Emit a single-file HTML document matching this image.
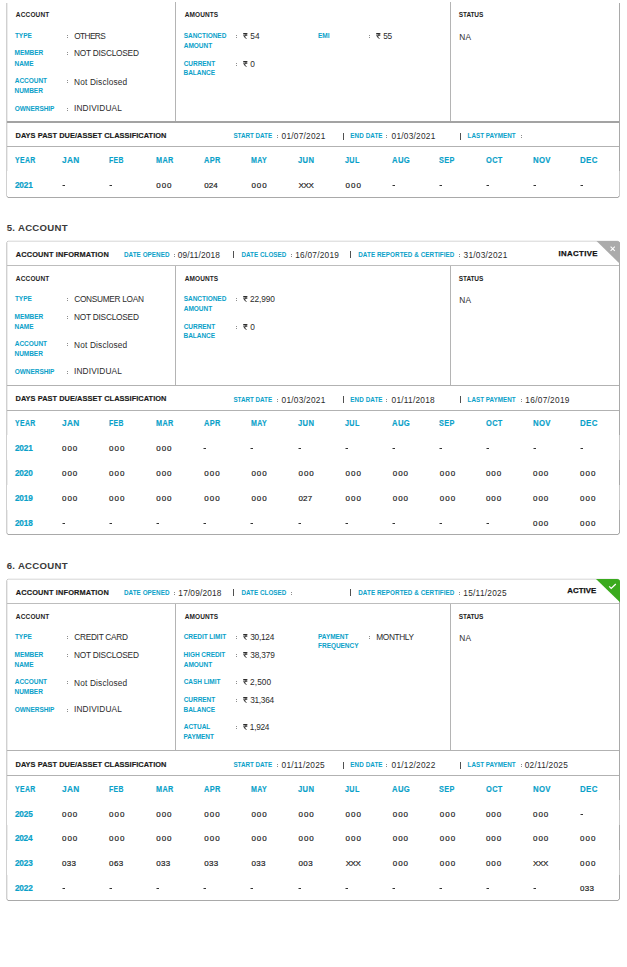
<!DOCTYPE html>
<html><head><meta charset="utf-8"><style>
html,body{margin:0;padding:0;background:#fff;}
body{width:627px;height:967px;position:relative;overflow:hidden;font-family:"Liberation Sans",sans-serif;}
.t{position:absolute;white-space:nowrap;line-height:1;}
.r{position:absolute;display:block;}
</style></head><body>
<div class="r" style="left:6px;top:3px;width:1px;height:193px;background:#d0d0d0"></div>
<div class="r" style="left:7px;top:3px;width:1px;height:193px;background:#ececec"></div>
<div class="r" style="left:619px;top:3px;width:1px;height:193px;background:#a9a9a9"></div>
<div class="r" style="left:8px;top:197px;width:610px;height:1px;background:#a9a9a9"></div>
<div class="r" style="left:7px;top:196px;width:1px;height:1px;background:#c2c2c2"></div>
<div class="r" style="left:6px;top:196px;width:1px;height:1px;background:#e6e6e6"></div>
<div class="r" style="left:7px;top:197px;width:1px;height:1px;background:#dcdcdc"></div>
<div class="r" style="left:618px;top:196px;width:1px;height:1px;background:#b4b4b4"></div>
<div class="r" style="left:618px;top:197px;width:1px;height:1px;background:#d8d8d8"></div>
<div class="r" style="left:619px;top:196px;width:1px;height:1px;background:#d8d8d8"></div>
<div class="t" style="left:15.84px;top:12px;font-size:6.5px;font-weight:bold;color:#1e1e1e;letter-spacing:0.16px;">ACCOUNT</div>
<div class="t" style="left:184.84px;top:12px;font-size:6.5px;font-weight:bold;color:#1e1e1e;letter-spacing:0.06px;">AMOUNTS</div>
<div class="t" style="left:458.81px;top:12px;font-size:6.5px;font-weight:bold;color:#1e1e1e;letter-spacing:-0.11px;">STATUS</div>
<div class="t" style="left:459.32px;top:33px;font-size:8.3px;font-weight:normal;color:#2b2b2b;letter-spacing:0.17px;">NA</div>
<div class="t" style="left:14.93px;top:33px;font-size:6.5px;font-weight:bold;color:#0aa1c9;letter-spacing:-0.05px;">TYPE</div>
<div class="r" style="left:67px;top:35px;width:1px;height:1px;background:#8e8e8e"></div>
<div class="r" style="left:67px;top:37px;width:1px;height:1px;background:#8e8e8e"></div>
<div class="t" style="left:74.31px;top:32px;font-size:8.3px;font-weight:normal;color:#2b2b2b;letter-spacing:-0.64px;">OTHERS</div>
<div class="t" style="left:14.57px;top:50px;font-size:6.5px;font-weight:bold;color:#0aa1c9;letter-spacing:-0.05px;">MEMBER</div>
<div class="t" style="left:14.57px;top:61px;font-size:6.5px;font-weight:bold;color:#0aa1c9;letter-spacing:-0.05px;">NAME</div>
<div class="r" style="left:67px;top:52px;width:1px;height:1px;background:#8e8e8e"></div>
<div class="r" style="left:67px;top:54px;width:1px;height:1px;background:#8e8e8e"></div>
<div class="t" style="left:74.02px;top:49px;font-size:8.3px;font-weight:normal;color:#2b2b2b;letter-spacing:-0.23px;">NOT DISCLOSED</div>
<div class="t" style="left:14.84px;top:78px;font-size:6.5px;font-weight:bold;color:#0aa1c9;letter-spacing:-0.05px;">ACCOUNT</div>
<div class="t" style="left:14.57px;top:88px;font-size:6.5px;font-weight:bold;color:#0aa1c9;letter-spacing:-0.05px;">NUMBER</div>
<div class="r" style="left:67px;top:80px;width:1px;height:1px;background:#8e8e8e"></div>
<div class="r" style="left:67px;top:82px;width:1px;height:1px;background:#8e8e8e"></div>
<div class="t" style="left:74.02px;top:78px;font-size:8.3px;font-weight:normal;color:#2b2b2b;letter-spacing:0.17px;">Not Disclosed</div>
<div class="t" style="left:14.73px;top:106px;font-size:6.5px;font-weight:bold;color:#0aa1c9;letter-spacing:-0.05px;">OWNERSHIP</div>
<div class="r" style="left:67px;top:108px;width:1px;height:1px;background:#8e8e8e"></div>
<div class="r" style="left:67px;top:110px;width:1px;height:1px;background:#8e8e8e"></div>
<div class="t" style="left:73.93px;top:104px;font-size:8.3px;font-weight:normal;color:#2b2b2b;letter-spacing:0.16px;">INDIVIDUAL</div>
<div class="t" style="left:183.81px;top:33px;font-size:6.5px;font-weight:bold;color:#0aa1c9;letter-spacing:-0.05px;">SANCTIONED</div>
<div class="t" style="left:183.84px;top:43px;font-size:6.5px;font-weight:bold;color:#0aa1c9;letter-spacing:-0.05px;">AMOUNT</div>
<div class="r" style="left:236px;top:35px;width:1px;height:1px;background:#8e8e8e"></div>
<div class="r" style="left:236px;top:37px;width:1px;height:1px;background:#8e8e8e"></div>
<svg class="r" style="left:242.8px;top:33px" width="5" height="6" viewBox="0 0 5 6"><path d="M0.2 0.55H4.4M0.2 2.1H4.4M1.2 0.55C3.8 0.55 3.9 3.4 0.9 3.4L3.6 5.8" fill="none" stroke="#2b2b2b" stroke-width="1"/></svg>
<div class="t" style="left:250.17px;top:32px;font-size:8.3px;font-weight:normal;color:#2b2b2b;letter-spacing:0.24px;">54</div>
<div class="t" style="left:183.73px;top:61px;font-size:6.5px;font-weight:bold;color:#0aa1c9;letter-spacing:-0.05px;">CURRENT</div>
<div class="t" style="left:183.57px;top:70px;font-size:6.5px;font-weight:bold;color:#0aa1c9;letter-spacing:-0.05px;">BALANCE</div>
<div class="r" style="left:236px;top:63px;width:1px;height:1px;background:#8e8e8e"></div>
<div class="r" style="left:236px;top:65px;width:1px;height:1px;background:#8e8e8e"></div>
<svg class="r" style="left:242.8px;top:61px" width="5" height="6" viewBox="0 0 5 6"><path d="M0.2 0.55H4.4M0.2 2.1H4.4M1.2 0.55C3.8 0.55 3.9 3.4 0.9 3.4L3.6 5.8" fill="none" stroke="#2b2b2b" stroke-width="1"/></svg>
<div class="t" style="left:250.18px;top:60px;font-size:8.3px;font-weight:normal;color:#2b2b2b;letter-spacing:-0.10px;">0</div>
<div class="t" style="left:318.07px;top:33px;font-size:6.5px;font-weight:bold;color:#0aa1c9;letter-spacing:-0.05px;">EMI</div>
<div class="r" style="left:369px;top:35px;width:1px;height:1px;background:#8e8e8e"></div>
<div class="r" style="left:369px;top:37px;width:1px;height:1px;background:#8e8e8e"></div>
<svg class="r" style="left:376px;top:33px" width="5" height="6" viewBox="0 0 5 6"><path d="M0.2 0.55H4.4M0.2 2.1H4.4M1.2 0.55C3.8 0.55 3.9 3.4 0.9 3.4L3.6 5.8" fill="none" stroke="#2b2b2b" stroke-width="1"/></svg>
<div class="t" style="left:383.37px;top:32px;font-size:8.3px;font-weight:normal;color:#2b2b2b;letter-spacing:-0.55px;">55</div>
<div class="r" style="left:175px;top:2px;width:1px;height:119px;background:#b4b4b4"></div>
<div class="r" style="left:450px;top:2px;width:1px;height:119px;background:#b4b4b4"></div>
<div class="r" style="left:7px;top:121px;width:612px;height:2px;background:#a3a3a3"></div>
<div class="t" style="left:15.50px;top:132px;font-size:7.4px;font-weight:bold;color:#1a1a1a;letter-spacing:0.06px;-webkit-text-stroke:0.15px #1a1a1a">DAYS PAST DUE/ASSET CLASSIFICATION</div>
<div class="t" style="left:233.42px;top:133px;font-size:6.3px;font-weight:bold;color:#0aa1c9;letter-spacing:-0.03px;">START DATE</div>
<div class="r" style="left:277px;top:135px;width:1px;height:1px;background:#8e8e8e"></div>
<div class="r" style="left:277px;top:137px;width:1px;height:1px;background:#8e8e8e"></div>
<div class="t" style="left:281.58px;top:132px;font-size:8.3px;font-weight:normal;color:#2b2b2b;letter-spacing:0.24px;">01/07/2021</div>
<div class="r" style="left:343px;top:133px;width:1px;height:7px;background:#505050"></div>
<div class="t" style="left:350.28px;top:133px;font-size:6.3px;font-weight:bold;color:#0aa1c9;letter-spacing:0.08px;">END DATE</div>
<div class="r" style="left:386px;top:135px;width:1px;height:1px;background:#8e8e8e"></div>
<div class="r" style="left:386px;top:137px;width:1px;height:1px;background:#8e8e8e"></div>
<div class="t" style="left:391.58px;top:132px;font-size:8.3px;font-weight:normal;color:#2b2b2b;letter-spacing:0.24px;">01/03/2021</div>
<div class="r" style="left:460px;top:133px;width:1px;height:7px;background:#505050"></div>
<div class="t" style="left:467.58px;top:133px;font-size:6.3px;font-weight:bold;color:#0aa1c9;letter-spacing:0.01px;">LAST PAYMENT</div>
<div class="r" style="left:521px;top:135px;width:1px;height:1px;background:#8e8e8e"></div>
<div class="r" style="left:521px;top:137px;width:1px;height:1px;background:#8e8e8e"></div>
<div class="r" style="left:7px;top:146px;width:612px;height:1px;background:#b2b2b2"></div>
<div class="r" style="left:619px;top:171px;width:1px;height:25px;background:#c9c9c9"></div>
<div class="r" style="left:7px;top:171px;width:1px;height:25px;background:#ffffff"></div>
<div class="t" style="left:15.06px;top:156px;font-size:8.3px;font-weight:bold;color:#0aa1c9;letter-spacing:0.42px;-webkit-text-stroke:0.15px #0aa1c9;transform:scaleX(0.833);transform-origin:0 0">YEAR</div>
<div class="t" style="left:62.17px;top:156px;font-size:8.3px;font-weight:bold;color:#0aa1c9;letter-spacing:0.35px;-webkit-text-stroke:0.15px #0aa1c9;transform:scaleX(0.999);transform-origin:0 0">JAN</div>
<div class="t" style="left:108.84px;top:156px;font-size:8.3px;font-weight:bold;color:#0aa1c9;letter-spacing:0.43px;-webkit-text-stroke:0.15px #0aa1c9;transform:scaleX(0.823);transform-origin:0 0">FEB</div>
<div class="t" style="left:155.94px;top:156px;font-size:8.3px;font-weight:bold;color:#0aa1c9;letter-spacing:0.40px;-webkit-text-stroke:0.15px #0aa1c9;transform:scaleX(0.875);transform-origin:0 0">MAR</div>
<div class="t" style="left:204.39px;top:156px;font-size:8.3px;font-weight:bold;color:#0aa1c9;letter-spacing:0.39px;-webkit-text-stroke:0.15px #0aa1c9;transform:scaleX(0.892);transform-origin:0 0">APR</div>
<div class="t" style="left:251.14px;top:156px;font-size:8.3px;font-weight:bold;color:#0aa1c9;letter-spacing:0.41px;-webkit-text-stroke:0.15px #0aa1c9;transform:scaleX(0.850);transform-origin:0 0">MAY</div>
<div class="t" style="left:297.67px;top:156px;font-size:8.3px;font-weight:bold;color:#0aa1c9;letter-spacing:0.38px;-webkit-text-stroke:0.15px #0aa1c9;transform:scaleX(0.917);transform-origin:0 0">JUN</div>
<div class="t" style="left:344.77px;top:156px;font-size:8.3px;font-weight:bold;color:#0aa1c9;letter-spacing:0.40px;-webkit-text-stroke:0.15px #0aa1c9;transform:scaleX(0.869);transform-origin:0 0">JUL</div>
<div class="t" style="left:391.79px;top:156px;font-size:8.3px;font-weight:bold;color:#0aa1c9;letter-spacing:0.38px;-webkit-text-stroke:0.15px #0aa1c9;transform:scaleX(0.925);transform-origin:0 0">AUG</div>
<div class="t" style="left:438.86px;top:156px;font-size:8.3px;font-weight:bold;color:#0aa1c9;letter-spacing:0.40px;-webkit-text-stroke:0.15px #0aa1c9;transform:scaleX(0.883);transform-origin:0 0">SEP</div>
<div class="t" style="left:485.86px;top:156px;font-size:8.3px;font-weight:bold;color:#0aa1c9;letter-spacing:0.39px;-webkit-text-stroke:0.15px #0aa1c9;transform:scaleX(0.895);transform-origin:0 0">OCT</div>
<div class="t" style="left:532.74px;top:156px;font-size:8.3px;font-weight:bold;color:#0aa1c9;letter-spacing:0.37px;-webkit-text-stroke:0.15px #0aa1c9;transform:scaleX(0.938);transform-origin:0 0">NOV</div>
<div class="t" style="left:579.84px;top:156px;font-size:8.3px;font-weight:bold;color:#0aa1c9;letter-spacing:0.37px;-webkit-text-stroke:0.15px #0aa1c9;transform:scaleX(0.950);transform-origin:0 0">DEC</div>
<div class="t" style="left:14.92px;top:182px;font-size:8.2px;font-weight:bold;color:#0aa1c9;letter-spacing:-0.14px;-webkit-text-stroke:0.2px #0aa1c9">2021</div>
<div class="r" style="left:62px;top:185px;width:1px;height:1px;background:#9a9a9a"></div>
<div class="r" style="left:63px;top:185px;width:2px;height:1px;background:#333333"></div>
<div class="r" style="left:109px;top:185px;width:1px;height:1px;background:#9a9a9a"></div>
<div class="r" style="left:110px;top:185px;width:2px;height:1px;background:#333333"></div>
<div class="t" style="left:156.19px;top:182px;font-size:8.0px;font-weight:normal;color:#1c1c1c;letter-spacing:0.99px;-webkit-text-stroke:0.2px #1c1c1c">000</div>
<div class="t" style="left:204.29px;top:182px;font-size:8.0px;font-weight:normal;color:#1c1c1c;letter-spacing:0.05px;-webkit-text-stroke:0.2px #1c1c1c">024</div>
<div class="t" style="left:251.39px;top:182px;font-size:8.0px;font-weight:normal;color:#1c1c1c;letter-spacing:0.99px;-webkit-text-stroke:0.2px #1c1c1c">000</div>
<div class="t" style="left:298.62px;top:182px;font-size:8.0px;font-weight:normal;color:#1c1c1c;letter-spacing:-0.43px;-webkit-text-stroke:0.2px #1c1c1c">XXX</div>
<div class="t" style="left:345.59px;top:182px;font-size:8.0px;font-weight:normal;color:#1c1c1c;letter-spacing:0.99px;-webkit-text-stroke:0.2px #1c1c1c">000</div>
<div class="r" style="left:392px;top:185px;width:1px;height:1px;background:#9a9a9a"></div>
<div class="r" style="left:393px;top:185px;width:2px;height:1px;background:#333333"></div>
<div class="r" style="left:439px;top:185px;width:1px;height:1px;background:#9a9a9a"></div>
<div class="r" style="left:440px;top:185px;width:2px;height:1px;background:#333333"></div>
<div class="r" style="left:486px;top:185px;width:1px;height:1px;background:#9a9a9a"></div>
<div class="r" style="left:487px;top:185px;width:2px;height:1px;background:#333333"></div>
<div class="r" style="left:533px;top:185px;width:1px;height:1px;background:#9a9a9a"></div>
<div class="r" style="left:534px;top:185px;width:2px;height:1px;background:#333333"></div>
<div class="r" style="left:580px;top:185px;width:1px;height:1px;background:#9a9a9a"></div>
<div class="r" style="left:581px;top:185px;width:2px;height:1px;background:#333333"></div>
<div class="t" style="left:6.70px;top:223px;font-size:9.6px;font-weight:bold;color:#3a3a3a;letter-spacing:0.30px;">5. ACCOUNT</div>
<div class="r" style="left:8px;top:240px;width:610px;height:1px;background:#f2f2f2"></div>
<div class="r" style="left:8px;top:241px;width:610px;height:1px;background:#e2e2e2"></div>
<div class="r" style="left:7px;top:241px;width:1px;height:1px;background:#cbcbcb"></div>
<div class="r" style="left:6px;top:242px;width:1px;height:1px;background:#dadada"></div>
<div class="r" style="left:7px;top:242px;width:1px;height:1px;background:#f2f2f2"></div>
<div class="r" style="left:618px;top:241px;width:1px;height:1px;background:#d4d4d4"></div>
<div class="r" style="left:619px;top:242px;width:1px;height:1px;background:#b8b8b8"></div>
<div class="r" style="left:6px;top:243px;width:1px;height:290px;background:#d0d0d0"></div>
<div class="r" style="left:7px;top:243px;width:1px;height:290px;background:#ececec"></div>
<div class="r" style="left:619px;top:243px;width:1px;height:290px;background:#a9a9a9"></div>
<div class="r" style="left:8px;top:534px;width:610px;height:1px;background:#a9a9a9"></div>
<div class="r" style="left:7px;top:533px;width:1px;height:1px;background:#c2c2c2"></div>
<div class="r" style="left:6px;top:533px;width:1px;height:1px;background:#e6e6e6"></div>
<div class="r" style="left:7px;top:534px;width:1px;height:1px;background:#dcdcdc"></div>
<div class="r" style="left:618px;top:533px;width:1px;height:1px;background:#b4b4b4"></div>
<div class="r" style="left:618px;top:534px;width:1px;height:1px;background:#d8d8d8"></div>
<div class="r" style="left:619px;top:533px;width:1px;height:1px;background:#d8d8d8"></div>
<div class="t" style="left:15.82px;top:251px;font-size:7.4px;font-weight:bold;color:#1a1a1a;letter-spacing:0.13px;-webkit-text-stroke:0.15px #1a1a1a">ACCOUNT INFORMATION</div>
<div class="t" style="left:123.98px;top:252px;font-size:6.3px;font-weight:bold;color:#0aa1c9;letter-spacing:0.05px;">DATE OPENED</div>
<div class="r" style="left:174px;top:254px;width:1px;height:1px;background:#8e8e8e"></div>
<div class="r" style="left:174px;top:256px;width:1px;height:1px;background:#8e8e8e"></div>
<div class="t" style="left:177.68px;top:251px;font-size:8.3px;font-weight:normal;color:#2b2b2b;letter-spacing:0.13px;">09/11/2018</div>
<div class="r" style="left:233px;top:251px;width:1px;height:7px;background:#505050"></div>
<div class="t" style="left:241.38px;top:252px;font-size:6.3px;font-weight:bold;color:#0aa1c9;letter-spacing:0.03px;">DATE CLOSED</div>
<div class="r" style="left:291px;top:254px;width:1px;height:1px;background:#8e8e8e"></div>
<div class="r" style="left:291px;top:256px;width:1px;height:1px;background:#8e8e8e"></div>
<div class="t" style="left:295.27px;top:251px;font-size:8.3px;font-weight:normal;color:#2b2b2b;letter-spacing:0.23px;">16/07/2019</div>
<div class="r" style="left:350px;top:251px;width:1px;height:7px;background:#505050"></div>
<div class="t" style="left:358.28px;top:252px;font-size:6.3px;font-weight:bold;color:#0aa1c9;letter-spacing:0.06px;">DATE REPORTED &amp; CERTIFIED</div>
<div class="r" style="left:459px;top:254px;width:1px;height:1px;background:#8e8e8e"></div>
<div class="r" style="left:459px;top:256px;width:1px;height:1px;background:#8e8e8e"></div>
<div class="t" style="left:463.58px;top:251px;font-size:8.3px;font-weight:normal;color:#2b2b2b;letter-spacing:0.24px;">31/03/2021</div>
<div class="r" style="left:7px;top:265px;width:612px;height:1px;background:#bdbdbd"></div>
<div class="t" style="left:558.58px;top:250px;font-size:7.8px;font-weight:bold;color:#111111;letter-spacing:0.35px;-webkit-text-stroke:0.25px #111">INACTIVE</div>
<svg class="r" style="left:0;top:0" width="627" height="967"><path d="M596.5 241H617 Q620 241 620 244V264 Z" fill="#ababab"/><path d="M610.6 246.6L614.8 250.8M614.8 246.6L610.6 250.8" stroke="#fff" stroke-width="1.1" fill="none"/></svg>
<div class="t" style="left:15.84px;top:276px;font-size:6.5px;font-weight:bold;color:#1e1e1e;letter-spacing:0.16px;">ACCOUNT</div>
<div class="t" style="left:184.84px;top:276px;font-size:6.5px;font-weight:bold;color:#1e1e1e;letter-spacing:0.06px;">AMOUNTS</div>
<div class="t" style="left:458.81px;top:276px;font-size:6.5px;font-weight:bold;color:#1e1e1e;letter-spacing:-0.11px;">STATUS</div>
<div class="t" style="left:459.32px;top:296px;font-size:8.3px;font-weight:normal;color:#2b2b2b;letter-spacing:0.17px;">NA</div>
<div class="t" style="left:14.93px;top:296px;font-size:6.5px;font-weight:bold;color:#0aa1c9;letter-spacing:-0.05px;">TYPE</div>
<div class="r" style="left:67px;top:298px;width:1px;height:1px;background:#8e8e8e"></div>
<div class="r" style="left:67px;top:300px;width:1px;height:1px;background:#8e8e8e"></div>
<div class="t" style="left:74.28px;top:295px;font-size:8.3px;font-weight:normal;color:#2b2b2b;letter-spacing:-0.30px;">CONSUMER LOAN</div>
<div class="t" style="left:14.57px;top:314px;font-size:6.5px;font-weight:bold;color:#0aa1c9;letter-spacing:-0.05px;">MEMBER</div>
<div class="t" style="left:14.57px;top:324px;font-size:6.5px;font-weight:bold;color:#0aa1c9;letter-spacing:-0.05px;">NAME</div>
<div class="r" style="left:67px;top:316px;width:1px;height:1px;background:#8e8e8e"></div>
<div class="r" style="left:67px;top:318px;width:1px;height:1px;background:#8e8e8e"></div>
<div class="t" style="left:74.02px;top:313px;font-size:8.3px;font-weight:normal;color:#2b2b2b;letter-spacing:-0.23px;">NOT DISCLOSED</div>
<div class="t" style="left:14.84px;top:341px;font-size:6.5px;font-weight:bold;color:#0aa1c9;letter-spacing:-0.05px;">ACCOUNT</div>
<div class="t" style="left:14.57px;top:351px;font-size:6.5px;font-weight:bold;color:#0aa1c9;letter-spacing:-0.05px;">NUMBER</div>
<div class="r" style="left:67px;top:343px;width:1px;height:1px;background:#8e8e8e"></div>
<div class="r" style="left:67px;top:345px;width:1px;height:1px;background:#8e8e8e"></div>
<div class="t" style="left:74.02px;top:341px;font-size:8.3px;font-weight:normal;color:#2b2b2b;letter-spacing:0.17px;">Not Disclosed</div>
<div class="t" style="left:14.73px;top:369px;font-size:6.5px;font-weight:bold;color:#0aa1c9;letter-spacing:-0.05px;">OWNERSHIP</div>
<div class="r" style="left:67px;top:371px;width:1px;height:1px;background:#8e8e8e"></div>
<div class="r" style="left:67px;top:373px;width:1px;height:1px;background:#8e8e8e"></div>
<div class="t" style="left:73.93px;top:367px;font-size:8.3px;font-weight:normal;color:#2b2b2b;letter-spacing:0.16px;">INDIVIDUAL</div>
<div class="t" style="left:183.81px;top:296px;font-size:6.5px;font-weight:bold;color:#0aa1c9;letter-spacing:-0.05px;">SANCTIONED</div>
<div class="t" style="left:183.84px;top:306px;font-size:6.5px;font-weight:bold;color:#0aa1c9;letter-spacing:-0.05px;">AMOUNT</div>
<div class="r" style="left:236px;top:298px;width:1px;height:1px;background:#8e8e8e"></div>
<div class="r" style="left:236px;top:300px;width:1px;height:1px;background:#8e8e8e"></div>
<svg class="r" style="left:242.8px;top:296px" width="5" height="6" viewBox="0 0 5 6"><path d="M0.2 0.55H4.4M0.2 2.1H4.4M1.2 0.55C3.8 0.55 3.9 3.4 0.9 3.4L3.6 5.8" fill="none" stroke="#2b2b2b" stroke-width="1"/></svg>
<div class="t" style="left:250.08px;top:295px;font-size:8.3px;font-weight:normal;color:#2b2b2b;letter-spacing:-0.13px;">22,990</div>
<div class="t" style="left:183.73px;top:324px;font-size:6.5px;font-weight:bold;color:#0aa1c9;letter-spacing:-0.05px;">CURRENT</div>
<div class="t" style="left:183.57px;top:333px;font-size:6.5px;font-weight:bold;color:#0aa1c9;letter-spacing:-0.05px;">BALANCE</div>
<div class="r" style="left:236px;top:326px;width:1px;height:1px;background:#8e8e8e"></div>
<div class="r" style="left:236px;top:328px;width:1px;height:1px;background:#8e8e8e"></div>
<svg class="r" style="left:242.8px;top:324px" width="5" height="6" viewBox="0 0 5 6"><path d="M0.2 0.55H4.4M0.2 2.1H4.4M1.2 0.55C3.8 0.55 3.9 3.4 0.9 3.4L3.6 5.8" fill="none" stroke="#2b2b2b" stroke-width="1"/></svg>
<div class="t" style="left:250.18px;top:323px;font-size:8.3px;font-weight:normal;color:#2b2b2b;letter-spacing:-0.10px;">0</div>
<div class="r" style="left:175px;top:266px;width:1px;height:119px;background:#b4b4b4"></div>
<div class="r" style="left:450px;top:266px;width:1px;height:119px;background:#b4b4b4"></div>
<div class="r" style="left:7px;top:385px;width:612px;height:1px;background:#b2b2b2"></div>
<div class="t" style="left:15.50px;top:395px;font-size:7.4px;font-weight:bold;color:#1a1a1a;letter-spacing:0.06px;-webkit-text-stroke:0.15px #1a1a1a">DAYS PAST DUE/ASSET CLASSIFICATION</div>
<div class="t" style="left:233.42px;top:397px;font-size:6.3px;font-weight:bold;color:#0aa1c9;letter-spacing:-0.03px;">START DATE</div>
<div class="r" style="left:277px;top:399px;width:1px;height:1px;background:#8e8e8e"></div>
<div class="r" style="left:277px;top:401px;width:1px;height:1px;background:#8e8e8e"></div>
<div class="t" style="left:281.58px;top:396px;font-size:8.3px;font-weight:normal;color:#2b2b2b;letter-spacing:0.24px;">01/03/2021</div>
<div class="r" style="left:343px;top:396px;width:1px;height:7px;background:#505050"></div>
<div class="t" style="left:350.28px;top:397px;font-size:6.3px;font-weight:bold;color:#0aa1c9;letter-spacing:0.08px;">END DATE</div>
<div class="r" style="left:386px;top:399px;width:1px;height:1px;background:#8e8e8e"></div>
<div class="r" style="left:386px;top:401px;width:1px;height:1px;background:#8e8e8e"></div>
<div class="t" style="left:391.58px;top:396px;font-size:8.3px;font-weight:normal;color:#2b2b2b;letter-spacing:0.24px;">01/11/2018</div>
<div class="r" style="left:460px;top:396px;width:1px;height:7px;background:#505050"></div>
<div class="t" style="left:467.58px;top:397px;font-size:6.3px;font-weight:bold;color:#0aa1c9;letter-spacing:0.01px;">LAST PAYMENT</div>
<div class="r" style="left:521px;top:399px;width:1px;height:1px;background:#8e8e8e"></div>
<div class="r" style="left:521px;top:401px;width:1px;height:1px;background:#8e8e8e"></div>
<div class="t" style="left:525.37px;top:396px;font-size:8.3px;font-weight:normal;color:#2b2b2b;letter-spacing:0.28px;">16/07/2019</div>
<div class="r" style="left:7px;top:410px;width:612px;height:1px;background:#b2b2b2"></div>
<div class="r" style="left:619px;top:435px;width:1px;height:25px;background:#c9c9c9"></div>
<div class="r" style="left:7px;top:435px;width:1px;height:25px;background:#ffffff"></div>
<div class="r" style="left:619px;top:485px;width:1px;height:25px;background:#c9c9c9"></div>
<div class="r" style="left:7px;top:485px;width:1px;height:25px;background:#ffffff"></div>
<div class="t" style="left:15.06px;top:419px;font-size:8.3px;font-weight:bold;color:#0aa1c9;letter-spacing:0.42px;-webkit-text-stroke:0.15px #0aa1c9;transform:scaleX(0.833);transform-origin:0 0">YEAR</div>
<div class="t" style="left:62.17px;top:419px;font-size:8.3px;font-weight:bold;color:#0aa1c9;letter-spacing:0.35px;-webkit-text-stroke:0.15px #0aa1c9;transform:scaleX(0.999);transform-origin:0 0">JAN</div>
<div class="t" style="left:108.84px;top:419px;font-size:8.3px;font-weight:bold;color:#0aa1c9;letter-spacing:0.43px;-webkit-text-stroke:0.15px #0aa1c9;transform:scaleX(0.823);transform-origin:0 0">FEB</div>
<div class="t" style="left:155.94px;top:419px;font-size:8.3px;font-weight:bold;color:#0aa1c9;letter-spacing:0.40px;-webkit-text-stroke:0.15px #0aa1c9;transform:scaleX(0.875);transform-origin:0 0">MAR</div>
<div class="t" style="left:204.39px;top:419px;font-size:8.3px;font-weight:bold;color:#0aa1c9;letter-spacing:0.39px;-webkit-text-stroke:0.15px #0aa1c9;transform:scaleX(0.892);transform-origin:0 0">APR</div>
<div class="t" style="left:251.14px;top:419px;font-size:8.3px;font-weight:bold;color:#0aa1c9;letter-spacing:0.41px;-webkit-text-stroke:0.15px #0aa1c9;transform:scaleX(0.850);transform-origin:0 0">MAY</div>
<div class="t" style="left:297.67px;top:419px;font-size:8.3px;font-weight:bold;color:#0aa1c9;letter-spacing:0.38px;-webkit-text-stroke:0.15px #0aa1c9;transform:scaleX(0.917);transform-origin:0 0">JUN</div>
<div class="t" style="left:344.77px;top:419px;font-size:8.3px;font-weight:bold;color:#0aa1c9;letter-spacing:0.40px;-webkit-text-stroke:0.15px #0aa1c9;transform:scaleX(0.869);transform-origin:0 0">JUL</div>
<div class="t" style="left:391.79px;top:419px;font-size:8.3px;font-weight:bold;color:#0aa1c9;letter-spacing:0.38px;-webkit-text-stroke:0.15px #0aa1c9;transform:scaleX(0.925);transform-origin:0 0">AUG</div>
<div class="t" style="left:438.86px;top:419px;font-size:8.3px;font-weight:bold;color:#0aa1c9;letter-spacing:0.40px;-webkit-text-stroke:0.15px #0aa1c9;transform:scaleX(0.883);transform-origin:0 0">SEP</div>
<div class="t" style="left:485.86px;top:419px;font-size:8.3px;font-weight:bold;color:#0aa1c9;letter-spacing:0.39px;-webkit-text-stroke:0.15px #0aa1c9;transform:scaleX(0.895);transform-origin:0 0">OCT</div>
<div class="t" style="left:532.74px;top:419px;font-size:8.3px;font-weight:bold;color:#0aa1c9;letter-spacing:0.37px;-webkit-text-stroke:0.15px #0aa1c9;transform:scaleX(0.938);transform-origin:0 0">NOV</div>
<div class="t" style="left:579.84px;top:419px;font-size:8.3px;font-weight:bold;color:#0aa1c9;letter-spacing:0.37px;-webkit-text-stroke:0.15px #0aa1c9;transform:scaleX(0.950);transform-origin:0 0">DEC</div>
<div class="t" style="left:14.92px;top:445px;font-size:8.2px;font-weight:bold;color:#0aa1c9;letter-spacing:-0.14px;-webkit-text-stroke:0.2px #0aa1c9">2021</div>
<div class="t" style="left:61.99px;top:445px;font-size:8.0px;font-weight:normal;color:#1c1c1c;letter-spacing:0.99px;-webkit-text-stroke:0.2px #1c1c1c">000</div>
<div class="t" style="left:109.09px;top:445px;font-size:8.0px;font-weight:normal;color:#1c1c1c;letter-spacing:0.99px;-webkit-text-stroke:0.2px #1c1c1c">000</div>
<div class="t" style="left:156.19px;top:445px;font-size:8.0px;font-weight:normal;color:#1c1c1c;letter-spacing:0.99px;-webkit-text-stroke:0.2px #1c1c1c">000</div>
<div class="r" style="left:203px;top:448px;width:1px;height:1px;background:#9a9a9a"></div>
<div class="r" style="left:204px;top:448px;width:2px;height:1px;background:#333333"></div>
<div class="r" style="left:250px;top:448px;width:1px;height:1px;background:#9a9a9a"></div>
<div class="r" style="left:251px;top:448px;width:2px;height:1px;background:#333333"></div>
<div class="r" style="left:298px;top:448px;width:1px;height:1px;background:#9a9a9a"></div>
<div class="r" style="left:299px;top:448px;width:2px;height:1px;background:#333333"></div>
<div class="r" style="left:345px;top:448px;width:1px;height:1px;background:#9a9a9a"></div>
<div class="r" style="left:346px;top:448px;width:2px;height:1px;background:#333333"></div>
<div class="r" style="left:392px;top:448px;width:1px;height:1px;background:#9a9a9a"></div>
<div class="r" style="left:393px;top:448px;width:2px;height:1px;background:#333333"></div>
<div class="r" style="left:439px;top:448px;width:1px;height:1px;background:#9a9a9a"></div>
<div class="r" style="left:440px;top:448px;width:2px;height:1px;background:#333333"></div>
<div class="r" style="left:486px;top:448px;width:1px;height:1px;background:#9a9a9a"></div>
<div class="r" style="left:487px;top:448px;width:2px;height:1px;background:#333333"></div>
<div class="r" style="left:533px;top:448px;width:1px;height:1px;background:#9a9a9a"></div>
<div class="r" style="left:534px;top:448px;width:2px;height:1px;background:#333333"></div>
<div class="r" style="left:580px;top:448px;width:1px;height:1px;background:#9a9a9a"></div>
<div class="r" style="left:581px;top:448px;width:2px;height:1px;background:#333333"></div>
<div class="t" style="left:14.92px;top:470px;font-size:8.2px;font-weight:bold;color:#0aa1c9;letter-spacing:-0.11px;-webkit-text-stroke:0.2px #0aa1c9">2020</div>
<div class="t" style="left:61.99px;top:470px;font-size:8.0px;font-weight:normal;color:#1c1c1c;letter-spacing:0.99px;-webkit-text-stroke:0.2px #1c1c1c">000</div>
<div class="t" style="left:109.09px;top:470px;font-size:8.0px;font-weight:normal;color:#1c1c1c;letter-spacing:0.99px;-webkit-text-stroke:0.2px #1c1c1c">000</div>
<div class="t" style="left:156.19px;top:470px;font-size:8.0px;font-weight:normal;color:#1c1c1c;letter-spacing:0.99px;-webkit-text-stroke:0.2px #1c1c1c">000</div>
<div class="t" style="left:204.29px;top:470px;font-size:8.0px;font-weight:normal;color:#1c1c1c;letter-spacing:0.99px;-webkit-text-stroke:0.2px #1c1c1c">000</div>
<div class="t" style="left:251.39px;top:470px;font-size:8.0px;font-weight:normal;color:#1c1c1c;letter-spacing:0.99px;-webkit-text-stroke:0.2px #1c1c1c">000</div>
<div class="t" style="left:298.49px;top:470px;font-size:8.0px;font-weight:normal;color:#1c1c1c;letter-spacing:0.99px;-webkit-text-stroke:0.2px #1c1c1c">000</div>
<div class="t" style="left:345.59px;top:470px;font-size:8.0px;font-weight:normal;color:#1c1c1c;letter-spacing:0.99px;-webkit-text-stroke:0.2px #1c1c1c">000</div>
<div class="t" style="left:392.69px;top:470px;font-size:8.0px;font-weight:normal;color:#1c1c1c;letter-spacing:0.99px;-webkit-text-stroke:0.2px #1c1c1c">000</div>
<div class="t" style="left:439.79px;top:470px;font-size:8.0px;font-weight:normal;color:#1c1c1c;letter-spacing:0.99px;-webkit-text-stroke:0.2px #1c1c1c">000</div>
<div class="t" style="left:485.89px;top:470px;font-size:8.0px;font-weight:normal;color:#1c1c1c;letter-spacing:0.99px;-webkit-text-stroke:0.2px #1c1c1c">000</div>
<div class="t" style="left:532.99px;top:470px;font-size:8.0px;font-weight:normal;color:#1c1c1c;letter-spacing:0.99px;-webkit-text-stroke:0.2px #1c1c1c">000</div>
<div class="t" style="left:580.09px;top:470px;font-size:8.0px;font-weight:normal;color:#1c1c1c;letter-spacing:0.99px;-webkit-text-stroke:0.2px #1c1c1c">000</div>
<div class="t" style="left:14.92px;top:495px;font-size:8.2px;font-weight:bold;color:#0aa1c9;letter-spacing:-0.12px;-webkit-text-stroke:0.2px #0aa1c9">2019</div>
<div class="t" style="left:61.99px;top:495px;font-size:8.0px;font-weight:normal;color:#1c1c1c;letter-spacing:0.99px;-webkit-text-stroke:0.2px #1c1c1c">000</div>
<div class="t" style="left:109.09px;top:495px;font-size:8.0px;font-weight:normal;color:#1c1c1c;letter-spacing:0.99px;-webkit-text-stroke:0.2px #1c1c1c">000</div>
<div class="t" style="left:156.19px;top:495px;font-size:8.0px;font-weight:normal;color:#1c1c1c;letter-spacing:0.99px;-webkit-text-stroke:0.2px #1c1c1c">000</div>
<div class="t" style="left:204.29px;top:495px;font-size:8.0px;font-weight:normal;color:#1c1c1c;letter-spacing:0.99px;-webkit-text-stroke:0.2px #1c1c1c">000</div>
<div class="t" style="left:251.39px;top:495px;font-size:8.0px;font-weight:normal;color:#1c1c1c;letter-spacing:0.99px;-webkit-text-stroke:0.2px #1c1c1c">000</div>
<div class="t" style="left:298.49px;top:495px;font-size:8.0px;font-weight:normal;color:#1c1c1c;letter-spacing:0.18px;-webkit-text-stroke:0.2px #1c1c1c">027</div>
<div class="t" style="left:345.59px;top:495px;font-size:8.0px;font-weight:normal;color:#1c1c1c;letter-spacing:0.99px;-webkit-text-stroke:0.2px #1c1c1c">000</div>
<div class="t" style="left:392.69px;top:495px;font-size:8.0px;font-weight:normal;color:#1c1c1c;letter-spacing:0.99px;-webkit-text-stroke:0.2px #1c1c1c">000</div>
<div class="t" style="left:439.79px;top:495px;font-size:8.0px;font-weight:normal;color:#1c1c1c;letter-spacing:0.99px;-webkit-text-stroke:0.2px #1c1c1c">000</div>
<div class="t" style="left:485.89px;top:495px;font-size:8.0px;font-weight:normal;color:#1c1c1c;letter-spacing:0.99px;-webkit-text-stroke:0.2px #1c1c1c">000</div>
<div class="t" style="left:532.99px;top:495px;font-size:8.0px;font-weight:normal;color:#1c1c1c;letter-spacing:0.99px;-webkit-text-stroke:0.2px #1c1c1c">000</div>
<div class="t" style="left:580.09px;top:495px;font-size:8.0px;font-weight:normal;color:#1c1c1c;letter-spacing:0.99px;-webkit-text-stroke:0.2px #1c1c1c">000</div>
<div class="t" style="left:14.92px;top:520px;font-size:8.2px;font-weight:bold;color:#0aa1c9;letter-spacing:-0.14px;-webkit-text-stroke:0.2px #0aa1c9">2018</div>
<div class="r" style="left:62px;top:523px;width:1px;height:1px;background:#9a9a9a"></div>
<div class="r" style="left:63px;top:523px;width:2px;height:1px;background:#333333"></div>
<div class="r" style="left:109px;top:523px;width:1px;height:1px;background:#9a9a9a"></div>
<div class="r" style="left:110px;top:523px;width:2px;height:1px;background:#333333"></div>
<div class="r" style="left:156px;top:523px;width:1px;height:1px;background:#9a9a9a"></div>
<div class="r" style="left:157px;top:523px;width:2px;height:1px;background:#333333"></div>
<div class="r" style="left:203px;top:523px;width:1px;height:1px;background:#9a9a9a"></div>
<div class="r" style="left:204px;top:523px;width:2px;height:1px;background:#333333"></div>
<div class="r" style="left:250px;top:523px;width:1px;height:1px;background:#9a9a9a"></div>
<div class="r" style="left:251px;top:523px;width:2px;height:1px;background:#333333"></div>
<div class="r" style="left:298px;top:523px;width:1px;height:1px;background:#9a9a9a"></div>
<div class="r" style="left:299px;top:523px;width:2px;height:1px;background:#333333"></div>
<div class="r" style="left:345px;top:523px;width:1px;height:1px;background:#9a9a9a"></div>
<div class="r" style="left:346px;top:523px;width:2px;height:1px;background:#333333"></div>
<div class="r" style="left:392px;top:523px;width:1px;height:1px;background:#9a9a9a"></div>
<div class="r" style="left:393px;top:523px;width:2px;height:1px;background:#333333"></div>
<div class="r" style="left:439px;top:523px;width:1px;height:1px;background:#9a9a9a"></div>
<div class="r" style="left:440px;top:523px;width:2px;height:1px;background:#333333"></div>
<div class="r" style="left:486px;top:523px;width:1px;height:1px;background:#9a9a9a"></div>
<div class="r" style="left:487px;top:523px;width:2px;height:1px;background:#333333"></div>
<div class="t" style="left:532.99px;top:520px;font-size:8.0px;font-weight:normal;color:#1c1c1c;letter-spacing:0.99px;-webkit-text-stroke:0.2px #1c1c1c">000</div>
<div class="t" style="left:580.09px;top:520px;font-size:8.0px;font-weight:normal;color:#1c1c1c;letter-spacing:0.99px;-webkit-text-stroke:0.2px #1c1c1c">000</div>
<div class="t" style="left:6.65px;top:561px;font-size:9.6px;font-weight:bold;color:#3a3a3a;letter-spacing:0.31px;">6. ACCOUNT</div>
<div class="r" style="left:8px;top:578px;width:610px;height:1px;background:#f2f2f2"></div>
<div class="r" style="left:8px;top:579px;width:610px;height:1px;background:#e2e2e2"></div>
<div class="r" style="left:7px;top:579px;width:1px;height:1px;background:#cbcbcb"></div>
<div class="r" style="left:6px;top:580px;width:1px;height:1px;background:#dadada"></div>
<div class="r" style="left:7px;top:580px;width:1px;height:1px;background:#f2f2f2"></div>
<div class="r" style="left:618px;top:579px;width:1px;height:1px;background:#d4d4d4"></div>
<div class="r" style="left:619px;top:580px;width:1px;height:1px;background:#b8b8b8"></div>
<div class="r" style="left:6px;top:581px;width:1px;height:318px;background:#d0d0d0"></div>
<div class="r" style="left:7px;top:581px;width:1px;height:318px;background:#ececec"></div>
<div class="r" style="left:619px;top:581px;width:1px;height:318px;background:#a9a9a9"></div>
<div class="r" style="left:8px;top:900px;width:610px;height:1px;background:#a9a9a9"></div>
<div class="r" style="left:7px;top:899px;width:1px;height:1px;background:#c2c2c2"></div>
<div class="r" style="left:6px;top:899px;width:1px;height:1px;background:#e6e6e6"></div>
<div class="r" style="left:7px;top:900px;width:1px;height:1px;background:#dcdcdc"></div>
<div class="r" style="left:618px;top:899px;width:1px;height:1px;background:#b4b4b4"></div>
<div class="r" style="left:618px;top:900px;width:1px;height:1px;background:#d8d8d8"></div>
<div class="r" style="left:619px;top:899px;width:1px;height:1px;background:#d8d8d8"></div>
<div class="t" style="left:15.82px;top:589px;font-size:7.4px;font-weight:bold;color:#1a1a1a;letter-spacing:0.13px;-webkit-text-stroke:0.15px #1a1a1a">ACCOUNT INFORMATION</div>
<div class="t" style="left:123.98px;top:590px;font-size:6.3px;font-weight:bold;color:#0aa1c9;letter-spacing:0.05px;">DATE OPENED</div>
<div class="r" style="left:174px;top:592px;width:1px;height:1px;background:#8e8e8e"></div>
<div class="r" style="left:174px;top:594px;width:1px;height:1px;background:#8e8e8e"></div>
<div class="t" style="left:178.37px;top:589px;font-size:8.3px;font-weight:normal;color:#2b2b2b;letter-spacing:0.16px;">17/09/2018</div>
<div class="r" style="left:233px;top:589px;width:1px;height:7px;background:#505050"></div>
<div class="t" style="left:241.38px;top:590px;font-size:6.3px;font-weight:bold;color:#0aa1c9;letter-spacing:0.03px;">DATE CLOSED</div>
<div class="r" style="left:291px;top:592px;width:1px;height:1px;background:#8e8e8e"></div>
<div class="r" style="left:291px;top:594px;width:1px;height:1px;background:#8e8e8e"></div>
<div class="r" style="left:350px;top:589px;width:1px;height:7px;background:#505050"></div>
<div class="t" style="left:358.28px;top:590px;font-size:6.3px;font-weight:bold;color:#0aa1c9;letter-spacing:0.06px;">DATE REPORTED &amp; CERTIFIED</div>
<div class="r" style="left:459px;top:592px;width:1px;height:1px;background:#8e8e8e"></div>
<div class="r" style="left:459px;top:594px;width:1px;height:1px;background:#8e8e8e"></div>
<div class="t" style="left:463.27px;top:589px;font-size:8.3px;font-weight:normal;color:#2b2b2b;letter-spacing:0.27px;">15/11/2025</div>
<div class="r" style="left:7px;top:603px;width:612px;height:1px;background:#bdbdbd"></div>
<div class="t" style="left:567.21px;top:587px;font-size:7.8px;font-weight:bold;color:#111111;letter-spacing:0.10px;-webkit-text-stroke:0.25px #111">ACTIVE</div>
<svg class="r" style="left:0;top:0" width="627" height="967"><path d="M596 579H617 Q620 579 620 582V602.3 Z" fill="#3aaa1e"/><path d="M609.2 586.4L611.2 588.4L615.8 584" stroke="#fff" stroke-width="1.3" fill="none"/></svg>
<div class="t" style="left:15.84px;top:614px;font-size:6.5px;font-weight:bold;color:#1e1e1e;letter-spacing:0.16px;">ACCOUNT</div>
<div class="t" style="left:184.84px;top:614px;font-size:6.5px;font-weight:bold;color:#1e1e1e;letter-spacing:0.06px;">AMOUNTS</div>
<div class="t" style="left:458.81px;top:614px;font-size:6.5px;font-weight:bold;color:#1e1e1e;letter-spacing:-0.11px;">STATUS</div>
<div class="t" style="left:459.32px;top:634px;font-size:8.3px;font-weight:normal;color:#2b2b2b;letter-spacing:0.17px;">NA</div>
<div class="t" style="left:14.93px;top:634px;font-size:6.5px;font-weight:bold;color:#0aa1c9;letter-spacing:-0.05px;">TYPE</div>
<div class="r" style="left:67px;top:636px;width:1px;height:1px;background:#8e8e8e"></div>
<div class="r" style="left:67px;top:638px;width:1px;height:1px;background:#8e8e8e"></div>
<div class="t" style="left:74.28px;top:633px;font-size:8.3px;font-weight:normal;color:#2b2b2b;letter-spacing:-0.29px;">CREDIT CARD</div>
<div class="t" style="left:14.57px;top:652px;font-size:6.5px;font-weight:bold;color:#0aa1c9;letter-spacing:-0.05px;">MEMBER</div>
<div class="t" style="left:14.57px;top:662px;font-size:6.5px;font-weight:bold;color:#0aa1c9;letter-spacing:-0.05px;">NAME</div>
<div class="r" style="left:67px;top:654px;width:1px;height:1px;background:#8e8e8e"></div>
<div class="r" style="left:67px;top:656px;width:1px;height:1px;background:#8e8e8e"></div>
<div class="t" style="left:74.02px;top:651px;font-size:8.3px;font-weight:normal;color:#2b2b2b;letter-spacing:-0.23px;">NOT DISCLOSED</div>
<div class="t" style="left:14.84px;top:679px;font-size:6.5px;font-weight:bold;color:#0aa1c9;letter-spacing:-0.05px;">ACCOUNT</div>
<div class="t" style="left:14.57px;top:689px;font-size:6.5px;font-weight:bold;color:#0aa1c9;letter-spacing:-0.05px;">NUMBER</div>
<div class="r" style="left:67px;top:681px;width:1px;height:1px;background:#8e8e8e"></div>
<div class="r" style="left:67px;top:683px;width:1px;height:1px;background:#8e8e8e"></div>
<div class="t" style="left:74.02px;top:679px;font-size:8.3px;font-weight:normal;color:#2b2b2b;letter-spacing:0.17px;">Not Disclosed</div>
<div class="t" style="left:14.73px;top:707px;font-size:6.5px;font-weight:bold;color:#0aa1c9;letter-spacing:-0.05px;">OWNERSHIP</div>
<div class="r" style="left:67px;top:709px;width:1px;height:1px;background:#8e8e8e"></div>
<div class="r" style="left:67px;top:711px;width:1px;height:1px;background:#8e8e8e"></div>
<div class="t" style="left:73.93px;top:705px;font-size:8.3px;font-weight:normal;color:#2b2b2b;letter-spacing:0.16px;">INDIVIDUAL</div>
<div class="t" style="left:183.73px;top:634px;font-size:6.5px;font-weight:bold;color:#0aa1c9;letter-spacing:-0.05px;">CREDIT LIMIT</div>
<div class="r" style="left:236px;top:636px;width:1px;height:1px;background:#8e8e8e"></div>
<div class="r" style="left:236px;top:638px;width:1px;height:1px;background:#8e8e8e"></div>
<svg class="r" style="left:242.8px;top:634px" width="5" height="6" viewBox="0 0 5 6"><path d="M0.2 0.55H4.4M0.2 2.1H4.4M1.2 0.55C3.8 0.55 3.9 3.4 0.9 3.4L3.6 5.8" fill="none" stroke="#2b2b2b" stroke-width="1"/></svg>
<div class="t" style="left:250.18px;top:633px;font-size:8.3px;font-weight:normal;color:#2b2b2b;letter-spacing:-0.25px;">30,124</div>
<div class="t" style="left:183.57px;top:652px;font-size:6.5px;font-weight:bold;color:#0aa1c9;letter-spacing:-0.05px;">HIGH CREDIT</div>
<div class="t" style="left:183.84px;top:662px;font-size:6.5px;font-weight:bold;color:#0aa1c9;letter-spacing:-0.05px;">AMOUNT</div>
<div class="r" style="left:236px;top:654px;width:1px;height:1px;background:#8e8e8e"></div>
<div class="r" style="left:236px;top:656px;width:1px;height:1px;background:#8e8e8e"></div>
<svg class="r" style="left:242.8px;top:652px" width="5" height="6" viewBox="0 0 5 6"><path d="M0.2 0.55H4.4M0.2 2.1H4.4M1.2 0.55C3.8 0.55 3.9 3.4 0.9 3.4L3.6 5.8" fill="none" stroke="#2b2b2b" stroke-width="1"/></svg>
<div class="t" style="left:250.18px;top:651px;font-size:8.3px;font-weight:normal;color:#2b2b2b;letter-spacing:-0.16px;">38,379</div>
<div class="t" style="left:183.73px;top:679px;font-size:6.5px;font-weight:bold;color:#0aa1c9;letter-spacing:-0.05px;">CASH LIMIT</div>
<div class="r" style="left:236px;top:681px;width:1px;height:1px;background:#8e8e8e"></div>
<div class="r" style="left:236px;top:683px;width:1px;height:1px;background:#8e8e8e"></div>
<svg class="r" style="left:242.8px;top:679px" width="5" height="6" viewBox="0 0 5 6"><path d="M0.2 0.55H4.4M0.2 2.1H4.4M1.2 0.55C3.8 0.55 3.9 3.4 0.9 3.4L3.6 5.8" fill="none" stroke="#2b2b2b" stroke-width="1"/></svg>
<div class="t" style="left:250.08px;top:678px;font-size:8.3px;font-weight:normal;color:#2b2b2b;letter-spacing:0.07px;">2,500</div>
<div class="t" style="left:183.73px;top:697px;font-size:6.5px;font-weight:bold;color:#0aa1c9;letter-spacing:-0.05px;">CURRENT</div>
<div class="t" style="left:183.57px;top:707px;font-size:6.5px;font-weight:bold;color:#0aa1c9;letter-spacing:-0.05px;">BALANCE</div>
<div class="r" style="left:236px;top:699px;width:1px;height:1px;background:#8e8e8e"></div>
<div class="r" style="left:236px;top:701px;width:1px;height:1px;background:#8e8e8e"></div>
<svg class="r" style="left:242.8px;top:697px" width="5" height="6" viewBox="0 0 5 6"><path d="M0.2 0.55H4.4M0.2 2.1H4.4M1.2 0.55C3.8 0.55 3.9 3.4 0.9 3.4L3.6 5.8" fill="none" stroke="#2b2b2b" stroke-width="1"/></svg>
<div class="t" style="left:250.18px;top:696px;font-size:8.3px;font-weight:normal;color:#2b2b2b;letter-spacing:-0.29px;">31,364</div>
<div class="t" style="left:183.84px;top:724px;font-size:6.5px;font-weight:bold;color:#0aa1c9;letter-spacing:-0.05px;">ACTUAL</div>
<div class="t" style="left:183.57px;top:734px;font-size:6.5px;font-weight:bold;color:#0aa1c9;letter-spacing:-0.05px;">PAYMENT</div>
<div class="r" style="left:236px;top:726px;width:1px;height:1px;background:#8e8e8e"></div>
<div class="r" style="left:236px;top:728px;width:1px;height:1px;background:#8e8e8e"></div>
<svg class="r" style="left:242.8px;top:724px" width="5" height="6" viewBox="0 0 5 6"><path d="M0.2 0.55H4.4M0.2 2.1H4.4M1.2 0.55C3.8 0.55 3.9 3.4 0.9 3.4L3.6 5.8" fill="none" stroke="#2b2b2b" stroke-width="1"/></svg>
<div class="t" style="left:249.87px;top:723px;font-size:8.3px;font-weight:normal;color:#2b2b2b;letter-spacing:-0.32px;">1,924</div>
<div class="t" style="left:318.07px;top:634px;font-size:6.5px;font-weight:bold;color:#0aa1c9;letter-spacing:-0.05px;">PAYMENT</div>
<div class="t" style="left:318.07px;top:643px;font-size:6.5px;font-weight:bold;color:#0aa1c9;letter-spacing:-0.05px;">FREQUENCY</div>
<div class="r" style="left:369px;top:636px;width:1px;height:1px;background:#8e8e8e"></div>
<div class="r" style="left:369px;top:638px;width:1px;height:1px;background:#8e8e8e"></div>
<div class="t" style="left:376.32px;top:633px;font-size:8.3px;font-weight:normal;color:#2b2b2b;letter-spacing:-0.39px;">MONTHLY</div>
<div class="r" style="left:175px;top:604px;width:1px;height:146px;background:#b4b4b4"></div>
<div class="r" style="left:450px;top:604px;width:1px;height:146px;background:#b4b4b4"></div>
<div class="r" style="left:7px;top:750px;width:612px;height:1px;background:#b2b2b2"></div>
<div class="t" style="left:15.50px;top:761px;font-size:7.4px;font-weight:bold;color:#1a1a1a;letter-spacing:0.06px;-webkit-text-stroke:0.15px #1a1a1a">DAYS PAST DUE/ASSET CLASSIFICATION</div>
<div class="t" style="left:233.42px;top:762px;font-size:6.3px;font-weight:bold;color:#0aa1c9;letter-spacing:-0.03px;">START DATE</div>
<div class="r" style="left:277px;top:764px;width:1px;height:1px;background:#8e8e8e"></div>
<div class="r" style="left:277px;top:766px;width:1px;height:1px;background:#8e8e8e"></div>
<div class="t" style="left:281.58px;top:761px;font-size:8.3px;font-weight:normal;color:#2b2b2b;letter-spacing:0.24px;">01/11/2025</div>
<div class="r" style="left:343px;top:762px;width:1px;height:7px;background:#505050"></div>
<div class="t" style="left:350.28px;top:762px;font-size:6.3px;font-weight:bold;color:#0aa1c9;letter-spacing:0.08px;">END DATE</div>
<div class="r" style="left:386px;top:764px;width:1px;height:1px;background:#8e8e8e"></div>
<div class="r" style="left:386px;top:766px;width:1px;height:1px;background:#8e8e8e"></div>
<div class="t" style="left:391.58px;top:761px;font-size:8.3px;font-weight:normal;color:#2b2b2b;letter-spacing:0.24px;">01/12/2022</div>
<div class="r" style="left:460px;top:762px;width:1px;height:7px;background:#505050"></div>
<div class="t" style="left:467.58px;top:762px;font-size:6.3px;font-weight:bold;color:#0aa1c9;letter-spacing:0.01px;">LAST PAYMENT</div>
<div class="r" style="left:521px;top:764px;width:1px;height:1px;background:#8e8e8e"></div>
<div class="r" style="left:521px;top:766px;width:1px;height:1px;background:#8e8e8e"></div>
<div class="t" style="left:524.68px;top:761px;font-size:8.3px;font-weight:normal;color:#2b2b2b;letter-spacing:0.24px;">02/11/2025</div>
<div class="r" style="left:7px;top:775px;width:612px;height:1px;background:#b2b2b2"></div>
<div class="r" style="left:619px;top:800px;width:1px;height:25px;background:#c9c9c9"></div>
<div class="r" style="left:7px;top:800px;width:1px;height:25px;background:#ffffff"></div>
<div class="r" style="left:619px;top:850px;width:1px;height:25px;background:#c9c9c9"></div>
<div class="r" style="left:7px;top:850px;width:1px;height:25px;background:#ffffff"></div>
<div class="t" style="left:15.06px;top:785px;font-size:8.3px;font-weight:bold;color:#0aa1c9;letter-spacing:0.42px;-webkit-text-stroke:0.15px #0aa1c9;transform:scaleX(0.833);transform-origin:0 0">YEAR</div>
<div class="t" style="left:62.17px;top:785px;font-size:8.3px;font-weight:bold;color:#0aa1c9;letter-spacing:0.35px;-webkit-text-stroke:0.15px #0aa1c9;transform:scaleX(0.999);transform-origin:0 0">JAN</div>
<div class="t" style="left:108.84px;top:785px;font-size:8.3px;font-weight:bold;color:#0aa1c9;letter-spacing:0.43px;-webkit-text-stroke:0.15px #0aa1c9;transform:scaleX(0.823);transform-origin:0 0">FEB</div>
<div class="t" style="left:155.94px;top:785px;font-size:8.3px;font-weight:bold;color:#0aa1c9;letter-spacing:0.40px;-webkit-text-stroke:0.15px #0aa1c9;transform:scaleX(0.875);transform-origin:0 0">MAR</div>
<div class="t" style="left:204.39px;top:785px;font-size:8.3px;font-weight:bold;color:#0aa1c9;letter-spacing:0.39px;-webkit-text-stroke:0.15px #0aa1c9;transform:scaleX(0.892);transform-origin:0 0">APR</div>
<div class="t" style="left:251.14px;top:785px;font-size:8.3px;font-weight:bold;color:#0aa1c9;letter-spacing:0.41px;-webkit-text-stroke:0.15px #0aa1c9;transform:scaleX(0.850);transform-origin:0 0">MAY</div>
<div class="t" style="left:297.67px;top:785px;font-size:8.3px;font-weight:bold;color:#0aa1c9;letter-spacing:0.38px;-webkit-text-stroke:0.15px #0aa1c9;transform:scaleX(0.917);transform-origin:0 0">JUN</div>
<div class="t" style="left:344.77px;top:785px;font-size:8.3px;font-weight:bold;color:#0aa1c9;letter-spacing:0.40px;-webkit-text-stroke:0.15px #0aa1c9;transform:scaleX(0.869);transform-origin:0 0">JUL</div>
<div class="t" style="left:391.79px;top:785px;font-size:8.3px;font-weight:bold;color:#0aa1c9;letter-spacing:0.38px;-webkit-text-stroke:0.15px #0aa1c9;transform:scaleX(0.925);transform-origin:0 0">AUG</div>
<div class="t" style="left:438.86px;top:785px;font-size:8.3px;font-weight:bold;color:#0aa1c9;letter-spacing:0.40px;-webkit-text-stroke:0.15px #0aa1c9;transform:scaleX(0.883);transform-origin:0 0">SEP</div>
<div class="t" style="left:485.86px;top:785px;font-size:8.3px;font-weight:bold;color:#0aa1c9;letter-spacing:0.39px;-webkit-text-stroke:0.15px #0aa1c9;transform:scaleX(0.895);transform-origin:0 0">OCT</div>
<div class="t" style="left:532.74px;top:785px;font-size:8.3px;font-weight:bold;color:#0aa1c9;letter-spacing:0.37px;-webkit-text-stroke:0.15px #0aa1c9;transform:scaleX(0.938);transform-origin:0 0">NOV</div>
<div class="t" style="left:579.84px;top:785px;font-size:8.3px;font-weight:bold;color:#0aa1c9;letter-spacing:0.37px;-webkit-text-stroke:0.15px #0aa1c9;transform:scaleX(0.950);transform-origin:0 0">DEC</div>
<div class="t" style="left:14.92px;top:811px;font-size:8.2px;font-weight:bold;color:#0aa1c9;letter-spacing:-0.14px;-webkit-text-stroke:0.2px #0aa1c9">2025</div>
<div class="t" style="left:61.99px;top:811px;font-size:8.0px;font-weight:normal;color:#1c1c1c;letter-spacing:0.99px;-webkit-text-stroke:0.2px #1c1c1c">000</div>
<div class="t" style="left:109.09px;top:811px;font-size:8.0px;font-weight:normal;color:#1c1c1c;letter-spacing:0.99px;-webkit-text-stroke:0.2px #1c1c1c">000</div>
<div class="t" style="left:156.19px;top:811px;font-size:8.0px;font-weight:normal;color:#1c1c1c;letter-spacing:0.99px;-webkit-text-stroke:0.2px #1c1c1c">000</div>
<div class="t" style="left:204.29px;top:811px;font-size:8.0px;font-weight:normal;color:#1c1c1c;letter-spacing:0.99px;-webkit-text-stroke:0.2px #1c1c1c">000</div>
<div class="t" style="left:251.39px;top:811px;font-size:8.0px;font-weight:normal;color:#1c1c1c;letter-spacing:0.99px;-webkit-text-stroke:0.2px #1c1c1c">000</div>
<div class="t" style="left:298.49px;top:811px;font-size:8.0px;font-weight:normal;color:#1c1c1c;letter-spacing:0.99px;-webkit-text-stroke:0.2px #1c1c1c">000</div>
<div class="t" style="left:345.59px;top:811px;font-size:8.0px;font-weight:normal;color:#1c1c1c;letter-spacing:0.99px;-webkit-text-stroke:0.2px #1c1c1c">000</div>
<div class="t" style="left:392.69px;top:811px;font-size:8.0px;font-weight:normal;color:#1c1c1c;letter-spacing:0.99px;-webkit-text-stroke:0.2px #1c1c1c">000</div>
<div class="t" style="left:439.79px;top:811px;font-size:8.0px;font-weight:normal;color:#1c1c1c;letter-spacing:0.99px;-webkit-text-stroke:0.2px #1c1c1c">000</div>
<div class="t" style="left:485.89px;top:811px;font-size:8.0px;font-weight:normal;color:#1c1c1c;letter-spacing:0.99px;-webkit-text-stroke:0.2px #1c1c1c">000</div>
<div class="t" style="left:532.99px;top:811px;font-size:8.0px;font-weight:normal;color:#1c1c1c;letter-spacing:0.99px;-webkit-text-stroke:0.2px #1c1c1c">000</div>
<div class="r" style="left:580px;top:814px;width:1px;height:1px;background:#9a9a9a"></div>
<div class="r" style="left:581px;top:814px;width:2px;height:1px;background:#333333"></div>
<div class="t" style="left:14.92px;top:835px;font-size:8.2px;font-weight:bold;color:#0aa1c9;letter-spacing:-0.20px;-webkit-text-stroke:0.2px #0aa1c9">2024</div>
<div class="t" style="left:61.99px;top:835px;font-size:8.0px;font-weight:normal;color:#1c1c1c;letter-spacing:0.99px;-webkit-text-stroke:0.2px #1c1c1c">000</div>
<div class="t" style="left:109.09px;top:835px;font-size:8.0px;font-weight:normal;color:#1c1c1c;letter-spacing:0.99px;-webkit-text-stroke:0.2px #1c1c1c">000</div>
<div class="t" style="left:156.19px;top:835px;font-size:8.0px;font-weight:normal;color:#1c1c1c;letter-spacing:0.99px;-webkit-text-stroke:0.2px #1c1c1c">000</div>
<div class="t" style="left:204.29px;top:835px;font-size:8.0px;font-weight:normal;color:#1c1c1c;letter-spacing:0.99px;-webkit-text-stroke:0.2px #1c1c1c">000</div>
<div class="t" style="left:251.39px;top:835px;font-size:8.0px;font-weight:normal;color:#1c1c1c;letter-spacing:0.99px;-webkit-text-stroke:0.2px #1c1c1c">000</div>
<div class="t" style="left:298.49px;top:835px;font-size:8.0px;font-weight:normal;color:#1c1c1c;letter-spacing:0.99px;-webkit-text-stroke:0.2px #1c1c1c">000</div>
<div class="t" style="left:345.59px;top:835px;font-size:8.0px;font-weight:normal;color:#1c1c1c;letter-spacing:0.99px;-webkit-text-stroke:0.2px #1c1c1c">000</div>
<div class="t" style="left:392.69px;top:835px;font-size:8.0px;font-weight:normal;color:#1c1c1c;letter-spacing:0.99px;-webkit-text-stroke:0.2px #1c1c1c">000</div>
<div class="t" style="left:439.79px;top:835px;font-size:8.0px;font-weight:normal;color:#1c1c1c;letter-spacing:0.99px;-webkit-text-stroke:0.2px #1c1c1c">000</div>
<div class="t" style="left:485.89px;top:835px;font-size:8.0px;font-weight:normal;color:#1c1c1c;letter-spacing:0.99px;-webkit-text-stroke:0.2px #1c1c1c">000</div>
<div class="t" style="left:532.99px;top:835px;font-size:8.0px;font-weight:normal;color:#1c1c1c;letter-spacing:0.99px;-webkit-text-stroke:0.2px #1c1c1c">000</div>
<div class="t" style="left:580.09px;top:835px;font-size:8.0px;font-weight:normal;color:#1c1c1c;letter-spacing:0.99px;-webkit-text-stroke:0.2px #1c1c1c">000</div>
<div class="t" style="left:14.92px;top:860px;font-size:8.2px;font-weight:bold;color:#0aa1c9;letter-spacing:-0.12px;-webkit-text-stroke:0.2px #0aa1c9">2023</div>
<div class="t" style="left:61.99px;top:860px;font-size:8.0px;font-weight:normal;color:#1c1c1c;letter-spacing:0.31px;-webkit-text-stroke:0.2px #1c1c1c">033</div>
<div class="t" style="left:109.09px;top:860px;font-size:8.0px;font-weight:normal;color:#1c1c1c;letter-spacing:0.41px;-webkit-text-stroke:0.2px #1c1c1c">063</div>
<div class="t" style="left:156.19px;top:860px;font-size:8.0px;font-weight:normal;color:#1c1c1c;letter-spacing:0.31px;-webkit-text-stroke:0.2px #1c1c1c">033</div>
<div class="t" style="left:204.29px;top:860px;font-size:8.0px;font-weight:normal;color:#1c1c1c;letter-spacing:0.31px;-webkit-text-stroke:0.2px #1c1c1c">033</div>
<div class="t" style="left:251.39px;top:860px;font-size:8.0px;font-weight:normal;color:#1c1c1c;letter-spacing:0.31px;-webkit-text-stroke:0.2px #1c1c1c">033</div>
<div class="t" style="left:298.49px;top:860px;font-size:8.0px;font-weight:normal;color:#1c1c1c;letter-spacing:0.41px;-webkit-text-stroke:0.2px #1c1c1c">003</div>
<div class="t" style="left:345.72px;top:860px;font-size:8.0px;font-weight:normal;color:#1c1c1c;letter-spacing:-0.43px;-webkit-text-stroke:0.2px #1c1c1c">XXX</div>
<div class="t" style="left:392.69px;top:860px;font-size:8.0px;font-weight:normal;color:#1c1c1c;letter-spacing:0.99px;-webkit-text-stroke:0.2px #1c1c1c">000</div>
<div class="t" style="left:439.79px;top:860px;font-size:8.0px;font-weight:normal;color:#1c1c1c;letter-spacing:0.99px;-webkit-text-stroke:0.2px #1c1c1c">000</div>
<div class="t" style="left:485.89px;top:860px;font-size:8.0px;font-weight:normal;color:#1c1c1c;letter-spacing:0.99px;-webkit-text-stroke:0.2px #1c1c1c">000</div>
<div class="t" style="left:533.12px;top:860px;font-size:8.0px;font-weight:normal;color:#1c1c1c;letter-spacing:-0.43px;-webkit-text-stroke:0.2px #1c1c1c">XXX</div>
<div class="t" style="left:580.09px;top:860px;font-size:8.0px;font-weight:normal;color:#1c1c1c;letter-spacing:0.99px;-webkit-text-stroke:0.2px #1c1c1c">000</div>
<div class="t" style="left:14.92px;top:885px;font-size:8.2px;font-weight:bold;color:#0aa1c9;letter-spacing:-0.11px;-webkit-text-stroke:0.2px #0aa1c9">2022</div>
<div class="r" style="left:62px;top:888px;width:1px;height:1px;background:#9a9a9a"></div>
<div class="r" style="left:63px;top:888px;width:2px;height:1px;background:#333333"></div>
<div class="r" style="left:109px;top:888px;width:1px;height:1px;background:#9a9a9a"></div>
<div class="r" style="left:110px;top:888px;width:2px;height:1px;background:#333333"></div>
<div class="r" style="left:156px;top:888px;width:1px;height:1px;background:#9a9a9a"></div>
<div class="r" style="left:157px;top:888px;width:2px;height:1px;background:#333333"></div>
<div class="r" style="left:203px;top:888px;width:1px;height:1px;background:#9a9a9a"></div>
<div class="r" style="left:204px;top:888px;width:2px;height:1px;background:#333333"></div>
<div class="r" style="left:250px;top:888px;width:1px;height:1px;background:#9a9a9a"></div>
<div class="r" style="left:251px;top:888px;width:2px;height:1px;background:#333333"></div>
<div class="r" style="left:298px;top:888px;width:1px;height:1px;background:#9a9a9a"></div>
<div class="r" style="left:299px;top:888px;width:2px;height:1px;background:#333333"></div>
<div class="r" style="left:345px;top:888px;width:1px;height:1px;background:#9a9a9a"></div>
<div class="r" style="left:346px;top:888px;width:2px;height:1px;background:#333333"></div>
<div class="r" style="left:392px;top:888px;width:1px;height:1px;background:#9a9a9a"></div>
<div class="r" style="left:393px;top:888px;width:2px;height:1px;background:#333333"></div>
<div class="r" style="left:439px;top:888px;width:1px;height:1px;background:#9a9a9a"></div>
<div class="r" style="left:440px;top:888px;width:2px;height:1px;background:#333333"></div>
<div class="r" style="left:486px;top:888px;width:1px;height:1px;background:#9a9a9a"></div>
<div class="r" style="left:487px;top:888px;width:2px;height:1px;background:#333333"></div>
<div class="r" style="left:533px;top:888px;width:1px;height:1px;background:#9a9a9a"></div>
<div class="r" style="left:534px;top:888px;width:2px;height:1px;background:#333333"></div>
<div class="t" style="left:580.09px;top:885px;font-size:8.0px;font-weight:normal;color:#1c1c1c;letter-spacing:0.31px;-webkit-text-stroke:0.2px #1c1c1c">033</div>
</body></html>
